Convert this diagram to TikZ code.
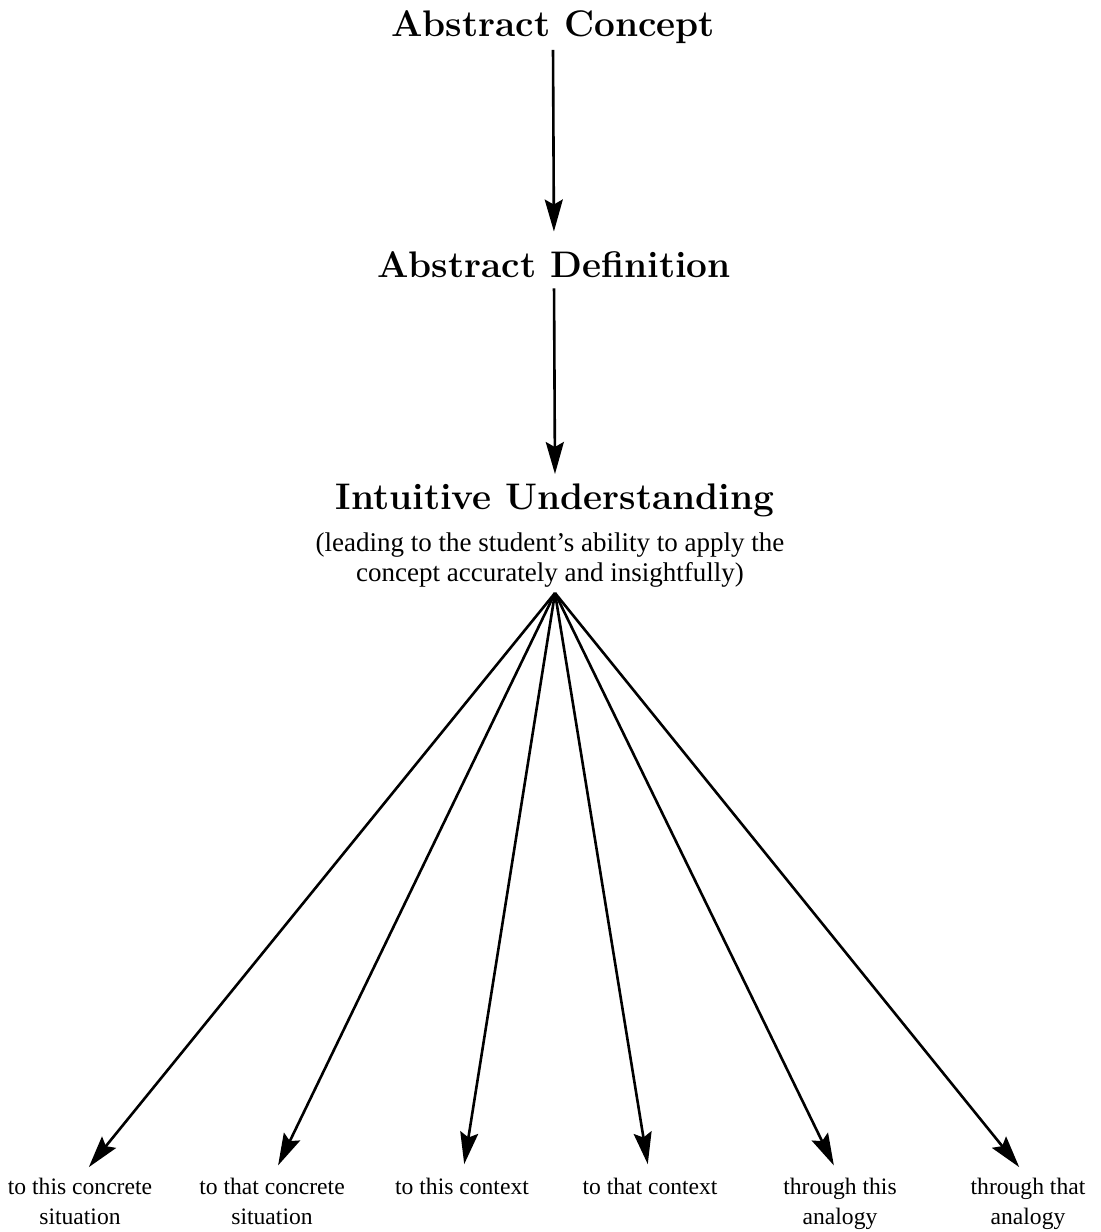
\documentclass[tikz,border=0pt]{standalone}
\usepackage{fontspec}
\usetikzlibrary{arrows.meta}
\newfontfamily\labelfont{Liberation Serif}
\tikzset{
  title/.style={font=\fontsize{18.5}{22}\selectfont\bfseries, inner sep=2pt},
  note/.style={font=\labelfont\fontsize{13.5}{15}\selectfont, align=center, inner sep=0pt},
  leaf/.style={font=\labelfont\fontsize{11.8}{15}\selectfont, align=center, anchor=north, inner sep=0pt},
  link/.style={line width=1.3pt, -{Stealth[length=16pt,width=9pt,inset=2.5pt]}}
}

\begin{document}
\begin{tikzpicture}[x=0.5pt,y=-0.5pt]
\useasboundingbox (0,0) rectangle (1100,1232);

% the three levels
\node[title] (concept) at (553,27) {Abstract Concept};
\node[title] (definition) at (554,265) {Abstract Definition};
\node[title] (intuitive) at (555,500) {Intuitive Understanding};
\node[note] (ability) at (550,560) {(leading to the student’s ability to apply the\\concept accurately and insightfully)};
\coordinate (hub) at (555,593);

\draw[link, shorten <=1pt, shorten >=8pt] (concept.south) -- (definition.north);
\draw[link, shorten <=3pt, shorten >=2.5pt] (definition.south) -- (intuitive.north);

% applications
\node[leaf] (sit1) at (80,1178) {to this concrete\\situation};
\node[leaf] (sit2) at (272,1178) {to that concrete\\situation};
\node[leaf] (ctx1) at (462,1178) {to this context};
\node[leaf] (ctx2) at (650,1178) {to that context};
\node[leaf] (ana1) at (840,1178) {through this\\analogy};
\node[leaf] (ana2) at (1028,1178) {through that\\analogy};

\foreach \leafname in {sit1,sit2,ctx1,ctx2,ana1,ana2}
  \draw[link, shorten >=7pt] (hub) -- (\leafname.north);
\end{tikzpicture}
\end{document}
